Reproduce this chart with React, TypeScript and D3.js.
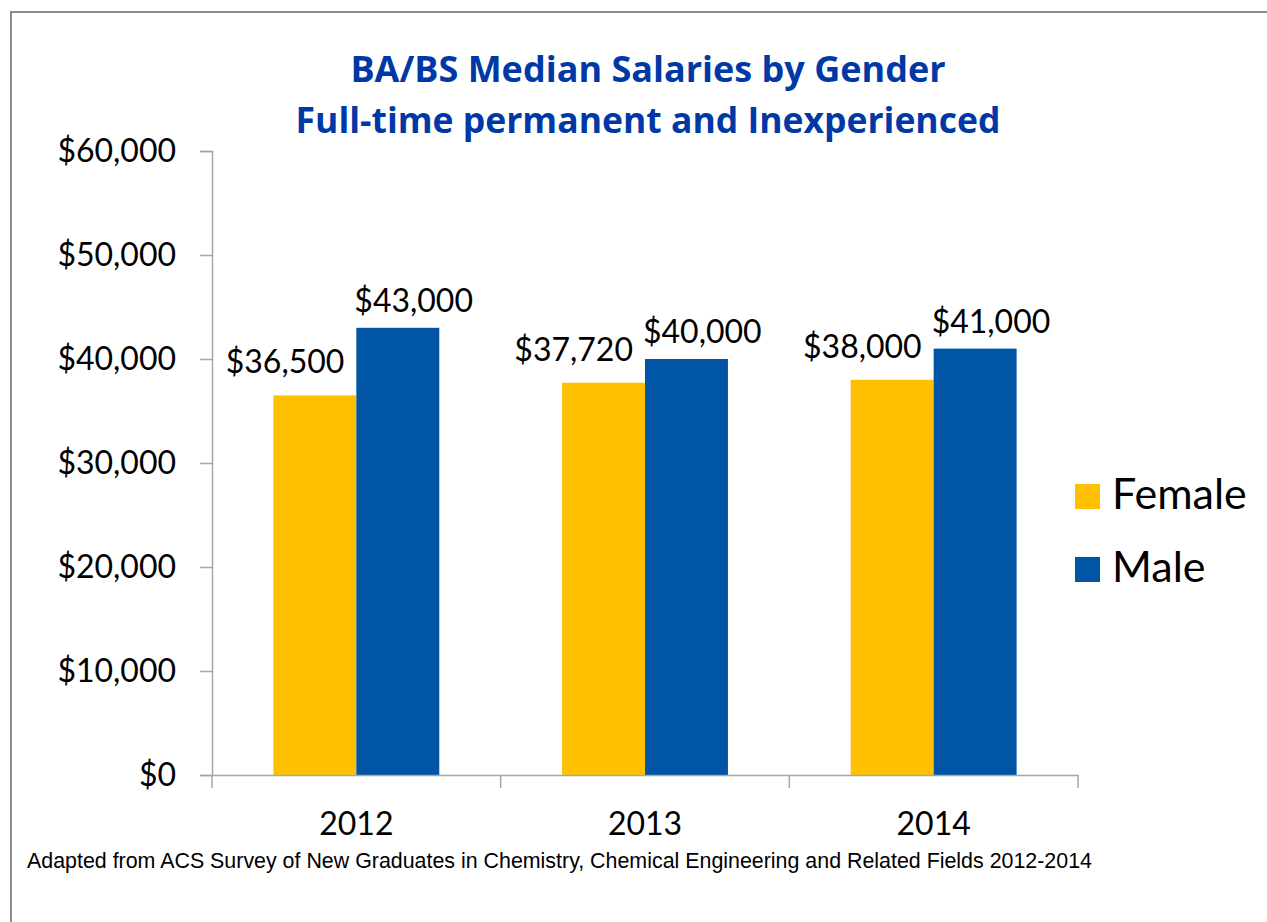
import React, { useEffect, useRef } from "react";
import * as d3 from "d3";

const years = ["2012", "2013", "2014"];
const seriesNames = ["Female", "Male"];
const femaleValues = [36500, 37720, 38000];
const maleValues = [43000, 40000, 41000];
const yTicks = [0, 10000, 20000, 30000, 40000, 50000, 60000];
const colors = ["#FFC000", "#0055A5"];
const titleLines = [
  "BA/BS Median Salaries by Gender",
  "Full-time permanent and Inexperienced",
];
const footnote =
  "Adapted from ACS Survey of New Graduates in Chemistry, Chemical Engineering and Related Fields 2012-2014";

const W = 1267;
const H = 922;
const FONT = "Lato, 'Open Sans', sans-serif";

const App: React.FC = () => {
  const svgRef = useRef<SVGSVGElement | null>(null);

  useEffect(() => {
    const svg = d3.select(svgRef.current);
    svg.selectAll("*").remove();

    const left = 212;
    const right = 1078;
    const top = 151;
    const bottom = 775;

    // outer frame
    svg
      .append("rect")
      .attr("x", 11)
      .attr("y", 12)
      .attr("width", W + 20)
      .attr("height", H + 20)
      .attr("fill", "white")
      .attr("stroke", "#8c8c8c")
      .attr("stroke-width", 2);

    // title
    titleLines.forEach((t, i) => {
      svg
        .append("text")
        .attr("x", 648)
        .attr("y", 82 + i * 51)
        .attr("text-anchor", "middle")
        .attr("font-family", "'Open Sans', Lato, sans-serif")
        .attr("font-weight", "bold")
        .attr("font-size", i === 0 ? 36 : 35.5)
        .attr("fill", "#0039A6")
        .text(t);
    });

    const x0 = d3.scaleBand().domain(years).range([left, right]);
    const x1 = d3
      .scaleBand()
      .domain(seriesNames)
      .range([0, x0.bandwidth()])
      .paddingOuter(0.74)
      .paddingInner(0);
    const y = d3.scaleLinear().domain([0, 60000]).range([bottom, top]);

    const fmt = (v: number) => "$" + d3.format(",")(v);

    // y axis
    const yAxis = svg.append("g").attr("transform", `translate(${left},0)`);
    yAxis.call(
      d3
        .axisLeft(y)
        .tickValues(yTicks)
        .tickSize(12)
        .tickPadding(24)
        .tickFormat((d) => fmt(d as number))
    );
    yAxis.select(".domain").attr("stroke", "#a6a6a6").attr("stroke-width", 1.5);
    yAxis.selectAll(".tick line").attr("stroke", "#a6a6a6").attr("stroke-width", 1.5);
    yAxis
      .selectAll(".tick text")
      .attr("font-family", FONT)
      .attr("font-size", 32)
      .attr("fill", "#000");

    // bars
    const rows = years.map((yr, i) => ({
      year: yr,
      vals: [femaleValues[i], maleValues[i]],
    }));

    const groups = svg
      .append("g")
      .selectAll("g")
      .data(rows)
      .enter()
      .append("g")
      .attr("transform", (d) => `translate(${x0(d.year)},0)`);

    groups
      .selectAll("rect")
      .data((d) => d.vals.map((v, j) => ({ v, key: seriesNames[j], j })))
      .enter()
      .append("rect")
      .attr("x", (d) => x1(d.key) as number)
      .attr("width", x1.bandwidth())
      .attr("y", (d) => y(d.v))
      .attr("height", (d) => y(0) - y(d.v))
      .attr("fill", (d) => colors[d.j]);

    // value labels: female pushed left of its bar, male starting at its bar
    groups
      .selectAll("text")
      .data((d) => d.vals.map((v, j) => ({ v, key: seriesNames[j], j })))
      .enter()
      .append("text")
      .attr("x", (d) =>
        d.j === 0
          ? (x1(d.key) as number) + x1.bandwidth() - 12
          : (x1(d.key) as number) - 2
      )
      .attr("y", (d) => y(d.v) - (d.j === 0 ? 22 : 16))
      .attr("text-anchor", (d) => (d.j === 0 ? "end" : "start"))
      .attr("font-family", FONT)
      .attr("font-size", 32)
      .attr("fill", "#000")
      .text((d) => fmt(d.v));

    // x axis
    const xAxis = svg.append("g").attr("transform", `translate(0,${bottom})`);
    xAxis.call(d3.axisBottom(x0).tickSize(0).tickPadding(37));
    xAxis.select(".domain").attr("stroke", "#a6a6a6").attr("stroke-width", 1.5);
    xAxis
      .selectAll(".tick text")
      .attr("font-family", FONT)
      .attr("font-size", 32)
      .attr("fill", "#000");
    const boundaries = years.map((yr) => x0(yr) as number).concat([right]);
    xAxis
      .selectAll(".sep")
      .data(boundaries)
      .enter()
      .append("line")
      .attr("x1", (d) => d)
      .attr("x2", (d) => d)
      .attr("y1", 0)
      .attr("y2", 13)
      .attr("stroke", "#a6a6a6")
      .attr("stroke-width", 1.5);

    // legend
    const legend = svg.append("g").attr("transform", "translate(1075,484)");
    seriesNames.forEach((name, i) => {
      const g = legend.append("g").attr("transform", `translate(0,${i * 73})`);
      g.append("rect")
        .attr("width", 25)
        .attr("height", 25)
        .attr("fill", colors[i]);
      g.append("text")
        .attr("x", 37)
        .attr("y", 25)
        .attr("font-family", FONT)
        .attr("font-size", 43)
        .attr("fill", "#000")
        .text(name);
    });

    // footnote
    svg
      .append("text")
      .attr("x", 27)
      .attr("y", 868)
      .attr("font-family", "'Liberation Sans', Arial, sans-serif")
      .attr("font-size", 21.4)
      .attr("fill", "#000")
      .text(footnote);
  }, []);

  return (
    <svg
      ref={svgRef}
      width={W}
      height={H}
      style={{ position: "absolute", left: 0, top: 0, background: "white" }}
    ></svg>
  );
};

export default App;
